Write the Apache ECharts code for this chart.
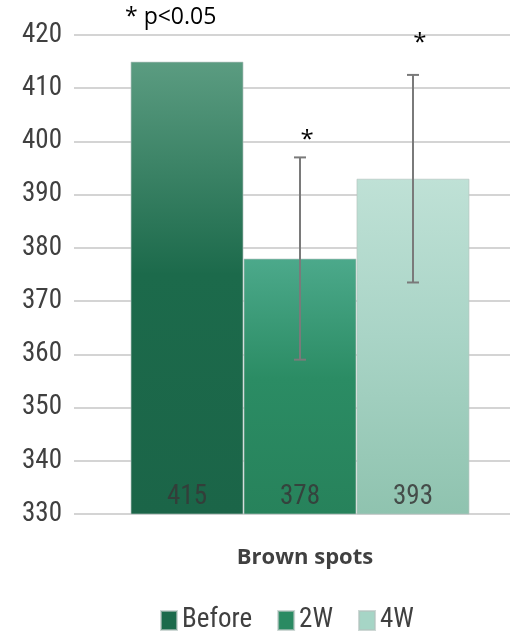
<!DOCTYPE html>
<html>
<head>
<meta charset="utf-8">
<script src="https://cdn.jsdelivr.net/npm/echarts@6/dist/echarts.min.js"></script>
<style>html,body{margin:0;padding:0;background:#fff;}#c{width:510px;height:635px;}</style>
</head>
<body>
<div id="c"></div>
<script>
const categories = ['Brown spots'];
const seriesNames = ['Before', '2W', '4W'];
const means = [415, 378, 393];
const errLow = [null, 359, 373.5];
const errHigh = [null, 397, 412.5];
const sigMarks = ['', '*', '*'];
const sigPos = [null, 400.3, 418.5];
const yTicks = { min: 330, max: 420, interval: 10 };
const note = '* p<0.05';

const NARROW = '"Roboto Condensed", "DejaVu Sans Condensed", sans-serif';
const OPEN = '"Open Sans", "Liberation Sans", sans-serif';
const GAP = 0.193;
const gradients = [
  ['#5b9c81', '#1c6a4b', '#1b6548'],
  ['#4ca98b', '#2b8c64', '#27825b'],
  ['#bfe1d6', '#a9d4c6', '#8fc3af']
];
const legendColors = ['#1b6a4b', '#2a8a62', '#a6d5c6'];

function grad(c) {
  return new echarts.graphic.LinearGradient(0, 0, 0, 1, [
    { offset: 0, color: c[0] }, { offset: 0.47, color: c[1] }, { offset: 1, color: c[2] }
  ]);
}

const chart = echarts.init(document.getElementById('c'));
const barSeries = seriesNames.map((name, i) => ({
  name: name,
  type: 'bar',
  xAxisIndex: 1, yAxisIndex: 1,
  data: [means[i]],
  barGap: '0%',
  barCategoryGap: (GAP * 100) + '%',
  itemStyle: { color: grad(gradients[i]), borderColor: 'rgba(180,195,190,0.65)', borderWidth: 1 },
  label: {
    show: true, position: 'insideBottom', distance: 4,
    fontFamily: NARROW, fontSize: 27, color: 'rgba(55,55,55,0.85)'
  },
  z: 2
}));

const errSeries = {
  type: 'custom',
  name: 'err',
  xAxisIndex: 1, yAxisIndex: 1,
  data: seriesNames.map((n, i) => [0, errLow[i], errHigh[i], i, sigPos[i]]).filter(d => d[1] != null),
  renderItem: function (params, api) {
    const idx = api.value(3);
    const band = api.size([1, 0])[0];
    const bw = band * (1 - GAP) / 3;
    const c0 = api.coord([0, api.value(1)]);
    const x = c0[0] + (idx - 1) * bw;
    const yl = c0[1];
    const yh = api.coord([0, api.value(2)])[1];
    const ys = api.coord([0, api.value(4)])[1];
    const cap = 6;
    const st = { stroke: '#7a7a7a', lineWidth: 2 };
    return {
      type: 'group',
      children: [
        { type: 'line', shape: { x1: x, y1: yh, x2: x, y2: yl }, style: st },
        { type: 'line', shape: { x1: x - cap, y1: yh, x2: x + cap, y2: yh }, style: st },
        { type: 'line', shape: { x1: x - cap, y1: yl, x2: x + cap, y2: yl }, style: st },
        { type: 'text', x: x + 7, y: ys, style: { text: sigMarks[idx], fontSize: 24, fontFamily: OPEN, fill: '#000', align: 'center', verticalAlign: 'middle' } }
      ]
    };
  },
  z: 5,
  silent: true
};

chart.setOption({
  animation: false,
  backgroundColor: '#fff',
  grid: [
    { left: 74, right: 0, top: 35, bottom: 121 },
    { left: 90, right: 0, top: 35, bottom: 121 }
  ],
  legend: {
    data: seriesNames.map((n, i) => ({ name: n, itemStyle: { color: legendColors[i] } })),
    top: 602, left: 155,
    itemWidth: 16, itemHeight: 19, itemGap: 25,
    textStyle: { fontFamily: NARROW, fontSize: 27, color: '#404040' },
    icon: 'rect'
  },
  xAxis: [
    { type: 'category', gridIndex: 0, data: categories, show: false },
    {
      type: 'category', gridIndex: 1, data: categories,
      axisLine: { show: false }, axisTick: { show: false },
      axisLabel: { margin: 33, padding: [0, 0, 0, 10], fontFamily: OPEN, fontWeight: 'bold', fontSize: 22, color: '#404040' }
    }
  ],
  yAxis: [
    {
      type: 'value', gridIndex: 0, min: yTicks.min, max: yTicks.max, interval: yTicks.interval,
      axisLine: { show: false }, axisTick: { show: false },
      axisLabel: { margin: 12, fontFamily: NARROW, fontSize: 27, color: '#404040' },
      splitLine: { lineStyle: { color: '#d4d4d4', width: 2 } }
    },
    {
      type: 'value', gridIndex: 1, min: yTicks.min, max: yTicks.max, interval: yTicks.interval,
      show: false, splitLine: { show: false }
    }
  ],
  graphic: [{
    type: 'text', left: 125, top: 6,
    style: { text: note, fontSize: 23, fontFamily: OPEN, fill: '#000' }
  }],
  series: barSeries.concat([errSeries])
});
</script>
</body>
</html>
